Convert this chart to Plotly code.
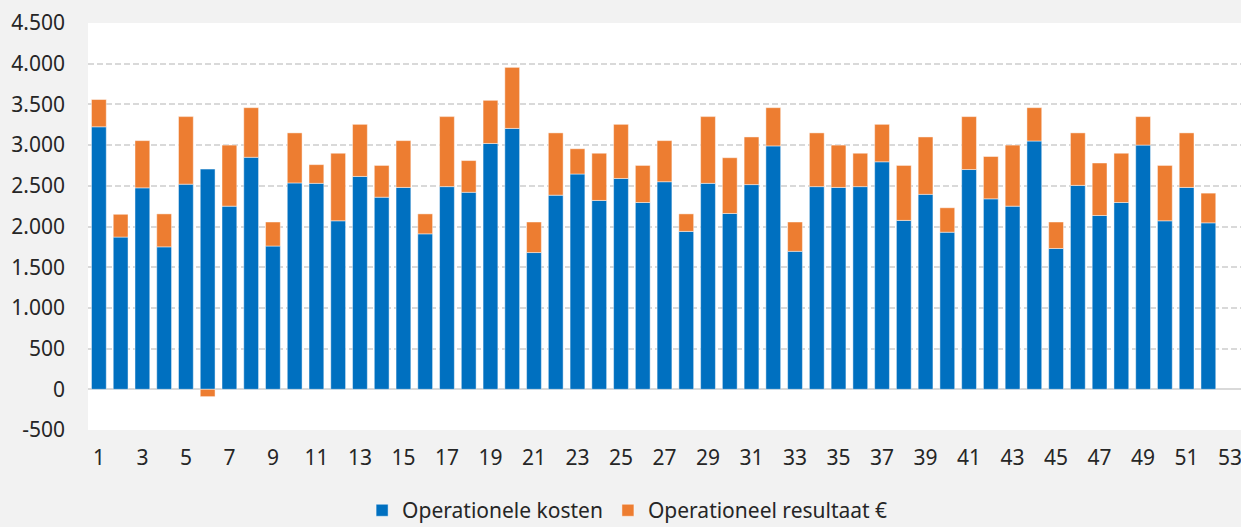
import plotly.graph_objects as go

weeks = list(range(1, 53))
kosten = [3225, 1870, 2475, 1750, 2520, 2705, 2250, 2850, 1760, 2535,
          2530, 2070, 2615, 2360, 2480, 1910, 2490, 2420, 3020, 3205,
          1680, 2385, 2645, 2320, 2590, 2295, 2550, 1940, 2530, 2160,
          2515, 2990, 1695, 2490, 2480, 2490, 2795, 2075, 2395, 1930,
          2700, 2340, 2250, 3050, 1730, 2505, 2135, 2295, 3000, 2070,
          2480, 2045]
resultaat = [335, 280, 580, 405, 830, -90, 750, 610, 295, 615,
             230, 830, 640, 390, 575, 245, 860, 390, 530, 750,
             375, 765, 310, 580, 665, 455, 505, 215, 820, 685,
             585, 470, 360, 660, 520, 410, 460, 675, 705, 300,
             650, 520, 750, 410, 325, 645, 645, 605, 350, 680,
             670, 365]

y_tickvals = [-500, 0, 500, 1000, 1500, 2000, 2500, 3000, 3500, 4000, 4500]
y_ticktext = ["-500", "0", "500", "1.000", "1.500", "2.000", "2.500",
              "3.000", "3.500", "4.000", "4.500"]
x_tickvals = list(range(1, 54, 2))

blue = "#0070C0"
orange = "#ED7D31"

fig = go.Figure()
fig.add_trace(go.Bar(x=weeks, y=kosten, name="Operationele kosten",
                     marker=dict(color=blue, line=dict(color="rgba(255,255,255,0.45)", width=1))))
fig.add_trace(go.Bar(x=weeks, y=resultaat, name="Operationeel resultaat €",
                     marker=dict(color=orange, line=dict(color="rgba(255,255,255,0.45)", width=1))))

fig.update_layout(
    barmode="relative",
    bargap=0.32,
    width=1241, height=527,
    paper_bgcolor="#f2f2f2",
    plot_bgcolor="#ffffff",
    margin=dict(l=88, r=0, t=23, b=97, autoexpand=False),
    font=dict(family="Noto Sans", size=21, color="#262626"),
    legend=dict(orientation="h", x=0.468, xanchor="center",
                yref="container", y=0.07, yanchor="top",
                font=dict(size=21, color="#262626"), bgcolor="rgba(0,0,0,0)",
                itemwidth=30, tracegroupgap=0),
    showlegend=True,
)
fig.update_xaxes(range=[0.5, 53.5], tickmode="array", tickvals=x_tickvals,
                 showgrid=False, zeroline=False, showline=False, ticks="",
                 ticklabelstandoff=13, ticklabeloverflow="allow")
fig.update_yaxes(range=[-500, 4500], tickmode="array", tickvals=y_tickvals,
                 ticktext=y_ticktext, showgrid=True, gridcolor="#d9d9d9",
                 gridwidth=1.5, griddash="6px,3px", zeroline=True,
                 zerolinecolor="#d9d9d9", zerolinewidth=2, showline=False,
                 ticks="", ticklabelstandoff=22)

fig.write_html(
    "out.html",
    config={"displayModeBar": False},
    post_script="document.body.style.margin='0';document.body.style.padding='0';"
                "document.documentElement.style.overflow='hidden';",
)
